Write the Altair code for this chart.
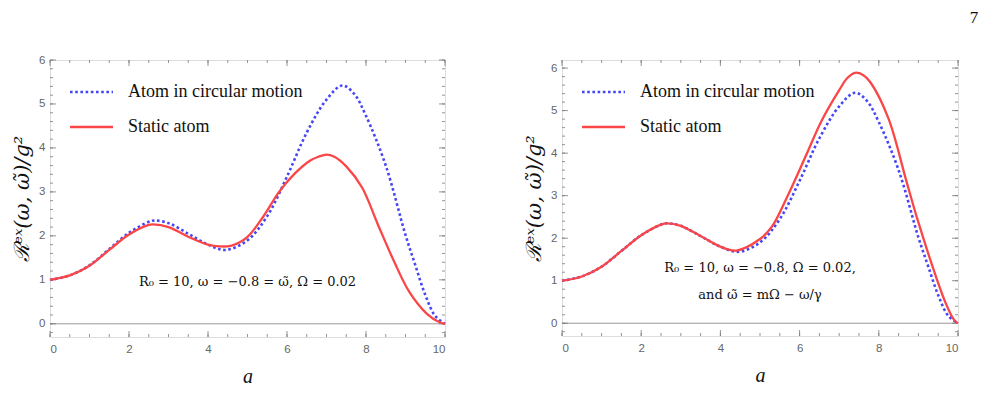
import altair as alt
import pandas as pd

# ---- data ----
a_circ = [0, 0.5, 1.0, 1.5, 2.0, 2.5, 2.65, 3.0, 3.5, 4.0, 4.45, 5.0, 5.5, 6.0, 6.5, 7.0, 7.4, 7.7, 8.0, 8.5, 9.0, 9.25, 9.5, 9.75, 10.0]
v_circ = [1.0, 1.1, 1.33, 1.7, 2.07, 2.32, 2.35, 2.29, 2.05, 1.8, 1.68, 1.9, 2.45, 3.35, 4.35, 5.1, 5.42, 5.23, 4.73, 3.6, 2.02, 1.33, 0.66, 0.18, 0.0]

a_static_1 = [0, 0.5, 1.0, 1.5, 2.0, 2.5, 2.6, 3.0, 3.5, 4.0, 4.3, 4.6, 5.0, 5.4, 5.8, 6.2, 6.6, 6.8, 7.0, 7.2, 7.5, 7.9, 8.3, 8.7, 9.1, 9.55, 9.85, 10.0]
v_static_1 = [1.0, 1.1, 1.32, 1.68, 2.03, 2.25, 2.26, 2.2, 1.98, 1.8, 1.76, 1.78, 1.98, 2.44, 3.0, 3.42, 3.72, 3.8, 3.85, 3.8, 3.58, 3.1, 2.26, 1.44, 0.72, 0.22, 0.04, 0.0]

a_static_2 = [0, 0.5, 1.0, 1.5, 2.0, 2.5, 2.65, 3.0, 3.5, 4.0, 4.4, 5.0, 5.3, 5.7, 6.15, 6.55, 7.0, 7.2, 7.4, 7.6, 7.8, 8.25, 8.7, 9.0, 9.45, 9.7, 9.9, 10.0]
v_static_2 = [1.0, 1.1, 1.33, 1.7, 2.07, 2.32, 2.35, 2.29, 2.05, 1.8, 1.71, 1.98, 2.27, 3.0, 3.92, 4.75, 5.48, 5.76, 5.89, 5.84, 5.65, 4.8, 3.33, 2.37, 1.08, 0.45, 0.08, 0.0]

x_major = [0, 2, 4, 6, 8, 10]
x_minor = [0, 0.5, 1, 1.5, 2, 2.5, 3, 3.5, 4, 4.5, 5, 5.5, 6, 6.5, 7, 7.5, 8, 8.5, 9, 9.5, 10]
y_major = [0, 1, 2, 3, 4, 5, 6]
y_minor = [-0.2, 0, 0.2, 0.4, 0.6, 0.8, 1, 1.2, 1.4, 1.6, 1.8, 2, 2.2, 2.4, 2.6, 2.8, 3, 3.2, 3.4, 3.6, 3.8,
           4, 4.2, 4.4, 4.6, 4.8, 5, 5.2, 5.4, 5.6, 5.8, 6]

legend_labels = ["Atom in circular motion", "Static atom"]
notes_left = ["R₀ = 10, ω = −0.8 = ω̃, Ω = 0.02"]
notes_right = ["R₀ = 10, ω = −0.8, Ω = 0.02,", "and ω̃ = mΩ − ω/γ"]
y_title = "ℛᵉˣ(ω, ω̃)/g²"

BLUE = "#4646f5"
RED = "#fa4646"
FRAME = "#7a7a7a"
SERIF = "Liberation Serif"
MATH = "DejaVu Serif"


def panel(static_a, static_v, ymax, W, H, notes, note_y, page=False):
    xs = alt.Scale(domain=[0, 10], nice=False, zero=False)
    ys = alt.Scale(domain=[-0.3, ymax], nice=False, zero=False)

    circ = pd.DataFrame({"a": a_circ, "v": v_circ})
    stat = pd.DataFrame({"a": static_a, "v": static_v})

    xaxis = alt.Axis(values=x_major, format="d", grid=False, ticks=False, domain=False,
                     labelColor="#666", labelFont="Liberation Sans", labelFontSize=11.5,
                     labelPadding=6, title="a", titleFont=SERIF, titleFontStyle="italic",
                     titleFontWeight="normal", titleFontSize=20, titleColor="#111",
                     titlePadding=12)
    yaxis = alt.Axis(values=y_major, format="d", grid=False, ticks=False, domain=False,
                     labelColor="#666", labelFont="Liberation Sans", labelFontSize=11.5,
                     labelPadding=5, title=y_title, titleFont=MATH, titleFontStyle="italic",
                     titleFontWeight="normal", titleFontSize=21, titleColor="#111",
                     titlePadding=6)

    def X(f="a"):
        return alt.X(f + ":Q", scale=xs, axis=xaxis, title="a")

    def Y(f="v"):
        return alt.Y(f + ":Q", scale=ys, axis=yaxis, title=y_title)

    blue = alt.Chart(circ).mark_line(color=BLUE, strokeWidth=2.6, strokeDash=[2.6, 2.6],
                                     interpolate="catmull-rom").encode(x=X(), y=Y())

    zero = alt.Chart(pd.DataFrame({"v": [0]})).mark_rule(color="#999", strokeWidth=1).encode(y=Y())

    def xt(vals, L, top):
        d = pd.DataFrame({"a": vals})
        if top:
            return alt.Chart(d).mark_rule(color=FRAME, strokeWidth=0.8).encode(
                x=X(), y=alt.value(0), y2=alt.value(L))
        return alt.Chart(d).mark_rule(color=FRAME, strokeWidth=0.8).encode(
            x=X(), y=alt.value(H), y2=alt.value(H - L))

    def yt(vals, L, right):
        d = pd.DataFrame({"v": vals})
        if right:
            return alt.Chart(d).mark_rule(color=FRAME, strokeWidth=0.8).encode(
                y=Y(), x=alt.value(W), x2=alt.value(W - L))
        return alt.Chart(d).mark_rule(color=FRAME, strokeWidth=0.8).encode(
            y=Y(), x=alt.value(0), x2=alt.value(L))

    ticks = [xt(x_major, 6, False), xt(x_minor, 3, False), xt(x_major, 6, True), xt(x_minor, 3, True),
             yt(y_major, 6, False), yt(y_minor, 3, False), yt(y_major, 6, True), yt(y_minor, 3, True)]

    red = alt.Chart(stat).mark_line(color=RED, strokeWidth=2.3, interpolate="catmull-rom").encode(
        x=X(), y=Y())

    one = pd.DataFrame({"k": [0]})
    leg = [
        alt.Chart(one).mark_rule(color=BLUE, strokeWidth=2.6, strokeDash=[2.6, 2.6]).encode(
            x=alt.value(20), x2=alt.value(63), y=alt.value(32)),
        alt.Chart(one).mark_rule(color=RED, strokeWidth=2.3).encode(
            x=alt.value(20), x2=alt.value(63), y=alt.value(67)),
        alt.Chart(one).mark_text(text=legend_labels[0], align="left", baseline="middle", font=SERIF,
                                 fontSize=18, color="#111").encode(x=alt.value(78), y=alt.value(32)),
        alt.Chart(one).mark_text(text=legend_labels[1], align="left", baseline="middle", font=SERIF,
                                 fontSize=18, color="#111").encode(x=alt.value(78), y=alt.value(67)),
    ]
    txt = [alt.Chart(one).mark_text(text=n, align="center", baseline="middle", font=MATH,
                                    fontSize=13, color="#111").encode(x=alt.value(W / 2), y=alt.value(yy))
           for n, yy in zip(notes, note_y)]
    extra = []
    if page:
        extra = [alt.Chart(one).mark_text(text="7", align="center", baseline="middle", font=SERIF,
                                          fontSize=17, color="#111").encode(x=alt.value(W + 16), y=alt.value(-42))]

    return alt.layer(zero, *ticks, blue, red, *leg, *txt, *extra).properties(width=W, height=H)


left = panel(a_static_1, v_static_1, 6.0, 395, 277, notes_left, [222])
right = panel(a_static_2, v_static_2, 6.19, 396, 276, notes_right, [208, 235], page=True)

chart = alt.hconcat(left, right, spacing=72).properties(
    padding={"left": 11, "top": 8, "right": 5, "bottom": 5}
).configure_view(stroke=FRAME, strokeWidth=1.2).configure(background="white")

chart.save("out.html", embed_options={"renderer": "svg", "actions": False})
